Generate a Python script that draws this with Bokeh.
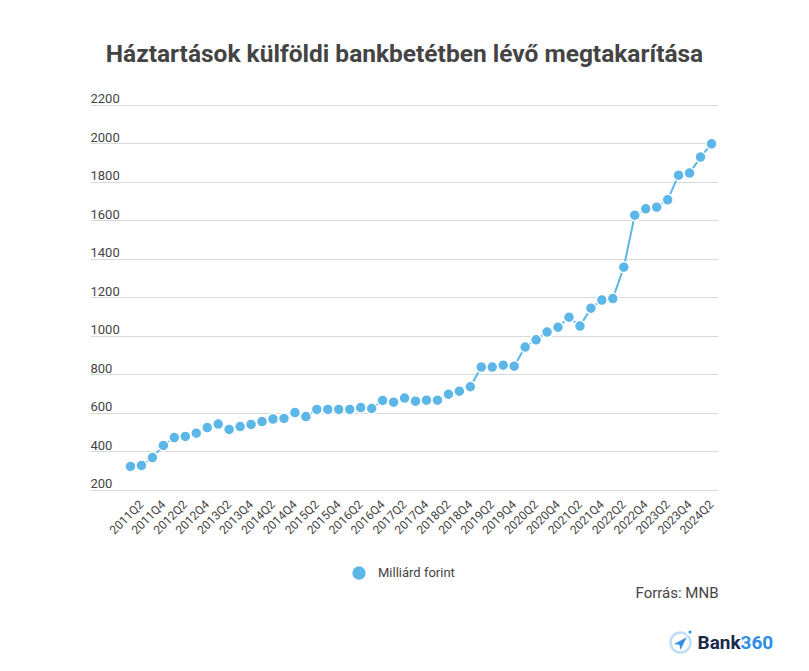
import math
from bokeh.plotting import figure
from bokeh.layouts import column
from bokeh.models import (ColumnDataSource, FixedTicker, Label, Legend, LegendItem,
                          Range1d, Title, BoxAnnotation, PolyAnnotation)
from bokeh.core.properties import value
from bokeh.embed import file_html
from bokeh.resources import INLINE

# ---------------- data ----------------
quarters = [f"{y}Q{q}" for y in range(2011, 2025) for q in range(1, 5)][:54]
values = [325, 330, 371, 434, 475, 481, 498, 527, 545, 517,
          532, 543, 558, 571, 574, 605, 584, 621, 621, 621,
          621, 631, 626, 668, 659, 680, 664, 669, 669, 700,
          716, 739, 841, 841, 851, 846, 945, 983, 1023, 1048,
          1100, 1054, 1147, 1189, 1197, 1360, 1630, 1663, 1672, 1710,
          1838, 1849, 1932, 2001]
y_ticks = [200, 400, 600, 800, 1000, 1200, 1400, 1600, 1800, 2000, 2200]
series_name = "Milliárd forint"
title_text = "Háztartások külföldi bankbetétben lévő megtakarítása"
source_text = "Forrás: MNB"

BLUE = "#5cb6e8"
TXT = "#444444"
FONT = "Roboto"
LOGO_BLUE = "#2e8ee6"
LOGO_NAVY = "#1c2a4d"

idx = list(range(len(quarters)))
src = ColumnDataSource(data=dict(x=idx, y=values, q=quarters))

# ---------------- main chart ----------------
p = figure(width=793, height=545, output_backend="svg", toolbar_location=None,
           x_range=Range1d(-3.649, 53.639), y_range=Range1d(189.6, 2288.3),
           min_border_left=90, min_border_right=75, min_border_top=88,
           min_border_bottom=53)
p.frame_align = False
p.outline_line_color = None
p.background_fill_color = "white"

p.add_layout(Title(text=title_text, align="center", text_font=FONT,
                   text_font_style="bold", text_font_size="24.5px",
                   text_color=TXT, standoff=42), "above")

# grid
p.ygrid.ticker = FixedTicker(ticks=y_ticks)
p.ygrid.grid_line_color = "#d9d9d9"
p.ygrid.grid_line_width = 1
p.xgrid.grid_line_color = None
p.yaxis.visible = False

# x axis
tick_idx = [i for i in idx if i % 2 == 1]
p.xaxis.ticker = FixedTicker(ticks=tick_idx)
p.xaxis.major_label_overrides = {i: quarters[i] for i in tick_idx}
p.xaxis.major_label_orientation = math.pi / 4
p.xaxis.axis_line_color = None
p.xaxis.major_tick_line_color = None
p.xaxis.minor_tick_line_color = None
p.xaxis.major_label_text_font = FONT
p.xaxis.major_label_text_font_size = "12px"
p.xaxis.major_label_text_color = TXT
p.xaxis.major_label_standoff = 4

# y tick labels above grid lines
ysrc = ColumnDataSource(data=dict(x=[-3.649] * len(y_ticks), y=y_ticks,
                                  t=[str(v) for v in y_ticks]))
p.text(x="x", y="y", text="t", source=ysrc, text_font=value(FONT),
       text_font_size="13px", text_color=TXT, text_align="left",
       text_baseline="bottom", y_offset=-2)

# series
p.line(x="x", y="y", source=src, line_color=BLUE, line_width=2)
p.scatter(x="x", y="y", source=src, size=11, fill_color=BLUE,
          line_color="white", line_width=1.5)

# ---------------- footer: legend, source, logo ----------------
f = figure(width=793, height=110, output_backend="svg", toolbar_location=None,
           x_range=Range1d(-1e6, -1e6 + 1), y_range=Range1d(-1e6, -1e6 + 1),
           min_border=0, min_border_left=0, min_border_right=0,
           min_border_top=0, min_border_bottom=0)
f.frame_align = False
f.axis.visible = False
f.grid.visible = False
f.outline_line_color = None

# same series, drawn outside this panel's view; used only for the legend swatch
legend_proxy = f.scatter(x="x", y="y", source=src, size=15, fill_color=BLUE,
                         line_color="white", line_width=1.5)
legend = Legend(items=[LegendItem(label=series_name, renderers=[legend_proxy])],
                location=(340, 64), orientation="horizontal",
                glyph_width=37, glyph_height=37, label_standoff=1,
                label_text_font=FONT, label_text_font_size="13px",
                label_text_color=TXT, label_text_baseline="middle",
                border_line_color=None, background_fill_alpha=0,
                padding=0, margin=0)
f.add_layout(legend, "center")

f.add_layout(Label(x=718, y=63, x_units="screen", y_units="screen",
                   text=source_text, text_font=FONT, text_font_size="15px",
                   text_color=TXT, text_align="right", text_baseline="middle"))

# Bank360 logo
f.add_layout(BoxAnnotation(left=670, right=690, bottom=3, top=23,
                           left_units="screen", right_units="screen",
                           bottom_units="screen", top_units="screen",
                           border_radius=10, fill_alpha=0,
                           line_color=LOGO_BLUE, line_width=2.5))
f.add_layout(BoxAnnotation(left=686, right=692, bottom=20, top=26,
                           left_units="screen", right_units="screen",
                           bottom_units="screen", top_units="screen",
                           border_radius=3, fill_color="white", fill_alpha=1,
                           line_color="white", line_width=1.5))
f.add_layout(BoxAnnotation(left=688, right=691, bottom=22, top=25,
                           left_units="screen", right_units="screen",
                           bottom_units="screen", top_units="screen",
                           border_radius=2, fill_color=LOGO_BLUE, fill_alpha=1,
                           line_alpha=0))
f.add_layout(PolyAnnotation(xs=[674, 686, 680, 679], ys=[11.5, 18, 6, 11],
                            xs_units="screen", ys_units="screen",
                            fill_color=LOGO_BLUE, fill_alpha=1,
                            line_color=LOGO_BLUE, line_width=1))
f.add_layout(Label(x=697, y=13, x_units="screen", y_units="screen",
                   text="Bank", text_font=FONT, text_font_style="bold",
                   text_font_size="19px", text_color=LOGO_NAVY,
                   text_align="left", text_baseline="middle"))
f.add_layout(Label(x=740, y=13, x_units="screen", y_units="screen",
                   text="360", text_font=FONT, text_font_style="bold",
                   text_font_size="19px", text_color=LOGO_BLUE,
                   text_align="left", text_baseline="middle"))

layout = column(p, f, spacing=0)
out = file_html(layout, INLINE)
open("out.html", "w").write(out)
